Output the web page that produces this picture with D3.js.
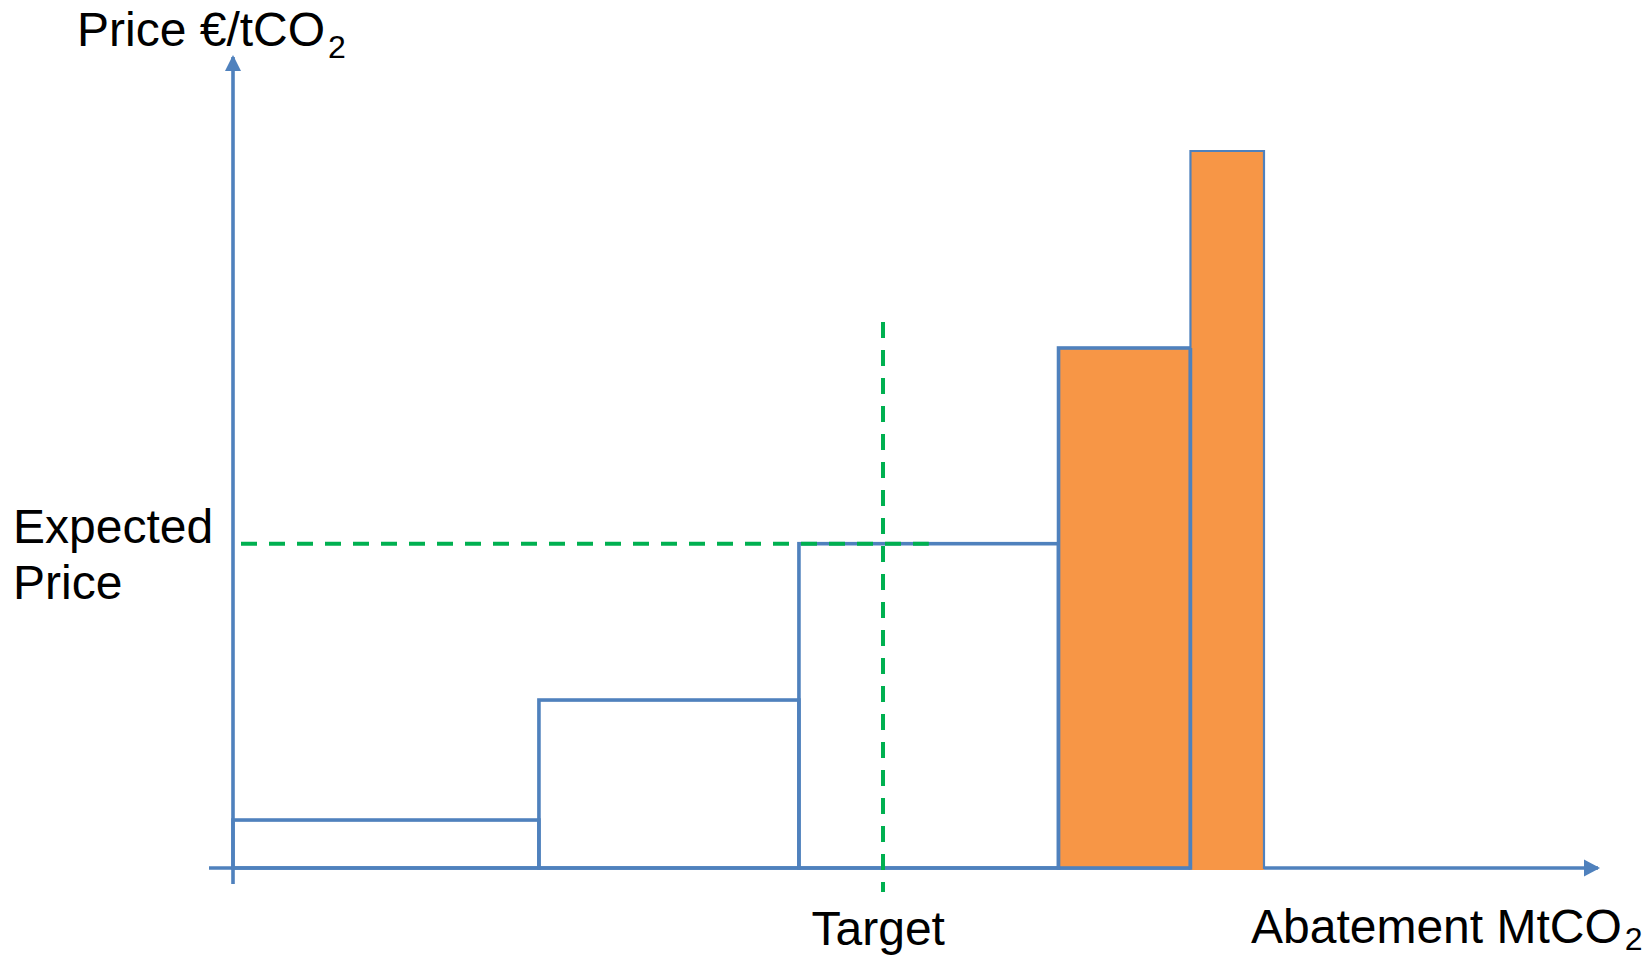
<!DOCTYPE html>
<html>
<head>
<meta charset="utf-8">
<script src="https://cdn.jsdelivr.net/npm/d3@7"></script>
<style>
  html, body { margin: 0; padding: 0; background: #ffffff; }
  svg { display: block; }
  text { font-family: "Liberation Sans", Arial, sans-serif; fill: #000; }
</style>
</head>
<body>
<svg id="chart" width="1651" height="957"></svg>
<script>
// ---- Data (abatement MtCO2 widths, prices €/tCO2) ----
const blockNames   = ["Option 1", "Option 2", "Option 3", "Option 4", "Option 5"];
const blockWidths  = [22.38, 19.02, 18.99, 9.65, 5.38];
const blockPrices  = [5.9, 20.66, 39.89, 63.96, 88.19];
const blockFilled  = [false, false, false, true, true];
const expectedPrice = 39.89;
const targetAbatement = 47.55;
const xLabel = "Abatement MtCO";
const yLabel = "Price €/tCO";
const targetLabel = "Target";
const expectedLabel = ["Expected", "Price"];

// ---- Layout ----
const W = 1651, H = 957;
const BLUE = "#4F81BD", ORANGE = "#F79646", GREEN = "#00B050";
const svg = d3.select("#chart");

const x = d3.scaleLinear().domain([0, 100]).range([233, 1600]);
const y = d3.scaleLinear().domain([0, 100]).range([868, 55]);

// cumulative block positions
let acc = 0;
const blocks = blockWidths.map((w, i) => {
  const b = { name: blockNames[i], x0: acc, x1: acc + w, price: blockPrices[i], filled: blockFilled[i] };
  acc += w;
  return b;
});

// ---- Axes ----
const axes = svg.append("g");
axes.append("line")
  .attr("x1", x(0) - 24).attr("x2", x(100) - 2)
  .attr("y1", y(0)).attr("y2", y(0))
  .attr("stroke", BLUE).attr("stroke-width", 3.6);
axes.append("line")
  .attr("x1", x(0)).attr("x2", x(0))
  .attr("y1", y(0) + 16).attr("y2", y(100) + 2)
  .attr("stroke", BLUE).attr("stroke-width", 3.6);
// arrowheads
axes.append("path")
  .attr("d", `M${x(100)},${y(0)} L${x(100) - 16},${y(0) - 8.5} L${x(100) - 16},${y(0) + 8.5} Z`)
  .attr("fill", BLUE);
axes.append("path")
  .attr("d", `M${x(0)},${y(100)} L${x(0) - 8},${y(100) + 16} L${x(0) + 8},${y(100) + 16} Z`)
  .attr("fill", BLUE);

// ---- Blocks ----
const g = svg.append("g");
g.selectAll("rect.block")
  .data(blocks.filter((b, i) => i < blocks.length - 1))
  .join("rect")
  .attr("class", "block")
  .attr("x", d => x(d.x0))
  .attr("y", d => y(d.price))
  .attr("width", d => x(d.x1) - x(d.x0))
  .attr("height", d => y(0) - y(d.price))
  .attr("fill", d => d.filled ? ORANGE : "none")
  .attr("stroke", BLUE)
  .attr("stroke-width", 3.6);

// last (tallest) block: covers the axis, thinner outline
const last = blocks[blocks.length - 1];
g.append("rect")
  .attr("x", x(last.x0))
  .attr("y", y(last.price))
  .attr("width", x(last.x1) - x(last.x0))
  .attr("height", y(0) - y(last.price) + 2)
  .attr("fill", ORANGE);
g.append("path")
  .attr("d", `M${x(last.x0)},${y(0)} L${x(last.x0)},${y(last.price)} L${x(last.x1)},${y(last.price)} L${x(last.x1)},${y(0) + 1}`)
  .attr("fill", "none")
  .attr("stroke", BLUE)
  .attr("stroke-width", 2.2);
const prev = blocks[blocks.length - 2];
g.append("line")
  .attr("x1", x(prev.x1)).attr("x2", x(prev.x1))
  .attr("y1", y(prev.price)).attr("y2", y(0) + 1.8)
  .attr("stroke", BLUE).attr("stroke-width", 3.6);

// ---- Guides (green dashed) ----
svg.append("line")
  .attr("x1", x(0) + 8).attr("x2", x(50.9))
  .attr("y1", y(expectedPrice)).attr("y2", y(expectedPrice))
  .attr("stroke", GREEN).attr("stroke-width", 4)
  .attr("stroke-dasharray", "16,12");
svg.append("line")
  .attr("x1", x(targetAbatement)).attr("x2", x(targetAbatement))
  .attr("y1", y(67.16)).attr("y2", y(-2.95))
  .attr("stroke", GREEN).attr("stroke-width", 4)
  .attr("stroke-dasharray", "16,12");

// ---- Text ----
const FS = 48, SUB = 32;
function subLabel(tx, ty, main, shift) {
  const t = svg.append("text").attr("x", tx).attr("y", ty).attr("font-size", FS);
  t.append("tspan").text(main);
  t.append("tspan").attr("font-size", SUB).attr("dx", 3).attr("dy", shift).text("2");
  return t;
}
subLabel(77, 46, yLabel, 12);
subLabel(1251, 943, xLabel, 7);

svg.append("text")
  .attr("x", 811.5).attr("y", 945)
  .attr("font-size", FS)
  .text(targetLabel);

svg.append("text")
  .attr("x", 13).attr("y", 543)
  .attr("font-size", FS)
  .selectAll("tspan")
  .data(expectedLabel)
  .join("tspan")
  .attr("x", 13)
  .attr("dy", (d, i) => i === 0 ? 0 : 56)
  .text(d => d);
</script>
</body>
</html>
